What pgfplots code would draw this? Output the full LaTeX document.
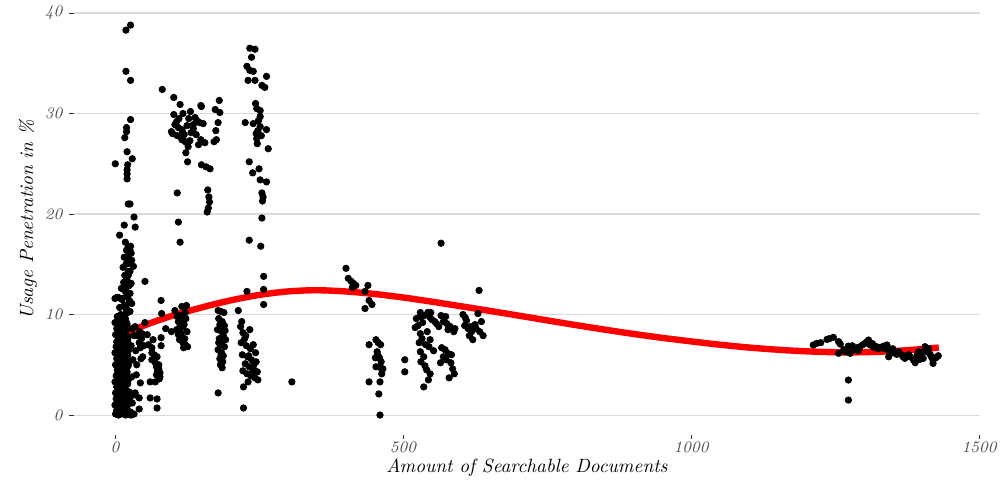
\documentclass[border=0pt]{standalone}
\usepackage{pgfplots}
\pgfplotsset{compat=1.18}
\definecolor{gridgray}{RGB}{218,218,218}
\definecolor{ticktxt}{RGB}{77,77,77}
\definecolor{tickmk}{RGB}{51,51,51}
\begin{document}
\begin{tikzpicture}
\begin{axis}[
  scale only axis,
  width=453pt, height=215pt,
  xmin=-71.5, xmax=1501.5,
  ymin=-1.945, ymax=40.85,
  axis line style={draw=none},
  xtick={0,500,1000,1500}, xticklabels={0,500,1000,1500},
  ytick={0,10,20,30,40}, yticklabels={0,10,20,30,40},
  xtick pos=bottom, ytick pos=left,
  tick align=outside,
  major tick length=2.2pt,
  every tick/.style={tickmk, line width=0.5pt},
  ymajorgrids,
  major grid style={gridgray, line width=0.55pt},
  tick label style={font=\fontsize{8}{9}\selectfont\itshape, text=ticktxt},
  xticklabel style={yshift=2pt},
  xlabel={Amount of Searchable Documents},
  ylabel={Usage Penetration in \%},
  label style={font=\fontsize{9.6}{11}\selectfont\itshape, text=black},
  xlabel style={yshift=4pt},
  ylabel style={yshift=-3pt},
  clip=false,
]
\addplot[only marks, mark=*, mark size=1.6pt, black] coordinates {
(1,0.1)(6,0.0)(12,0.2)(18,0.0)(24,0.1)(3,0.5)(9,0.7)(15,0.4)(21,0.6)(27,0.3)
(0,1.0)(5,1.2)(11,0.9)(17,1.3)(23,1.1)(2,1.6)(8,1.8)(14,1.5)(20,1.9)(26,1.7)
(1,2.2)(7,2.4)(13,2.1)(19,2.5)(25,2.3)(3,2.8)(10,3.0)(16,2.7)(22,3.1)(0,3.3)
(6,3.5)(12,3.4)(18,3.7)(24,3.6)(2,3.9)(9,4.1)(15,4.0)(21,4.3)(4,4.5)(11,4.7)
(17,4.6)(23,4.9)(1,5.0)(7,5.2)(13,5.1)(19,5.4)(25,5.3)(3,5.6)(10,5.8)(16,5.7)
(22,6.0)(0,6.2)(6,6.4)(12,6.3)(18,6.6)(24,6.5)(2,6.8)(8,7.0)(14,6.9)(20,7.2)
(5,7.4)(11,7.6)(17,7.5)(23,7.8)(1,8.0)(7,8.2)(13,8.1)(19,8.4)(3,8.6)(9,8.8)
(15,8.7)(21,9.0)(0,9.2)(6,9.4)(12,9.3)(18,9.6)(4,9.8)(10,10.0)(16,9.9)(22,10.2)
(4,0.3)(10,0.1)(16,0.6)(22,0.2)(8,1.4)(14,1.0)(20,1.5)(4,2.0)(10,2.6)(16,2.3)
(22,1.8)(7,3.2)(13,2.9)(19,3.5)(5,4.2)(14,4.4)(20,3.9)(8,4.8)(15,5.3)(21,5.0)
(4,5.9)(9,6.1)(16,6.0)(21,6.7)(3,7.3)(10,7.1)(15,7.8)(22,7.4)(5,8.5)(12,8.9)
(18,8.2)(8,9.6)(14,9.7)(20,9.2)
(28,0.0)(33,0.1)(30,1.2)(35,2.0)(29,3.8)(31,5.5)(28,6.9)(33,7.9)(30,8.6)
(20,10.4)(8,10.7)(16,10.9)(24,11.2)(12,11.5)(0,11.6)(6,11.7)(21,11.9)(18,12.3)(11,12.6)
(25,12.9)(15,13.2)(20,13.5)(17,13.9)(23,14.3)(14,14.7)(19,15.0)(22,15.4)(16,15.7)(24,16.0)
(20,16.4)(27,16.8)(18,17.2)(8,17.9)(16,18.9)(35,18.7)(33,19.7)(52,13.3)
(23,16.8)(26,16.4)(28,16.1)(23,15.8)(29,15.4)(24,15.1)(32,14.8)(26,14.3)(23,13.9)(21,13.4)
(28,13.1)(22,12.8)(17,12.4)(26,12.1)(20,11.8)(3,11.7)(12,11.6)(25,11.4)(29,11.1)(20,10.6)
(26,10.3)(6,9.8)
(23,21.0)(26,21.0)(21,24.4)(21,24.0)(21,23.5)(22,24.9)(0.5,25.0)(30,25.5)(21,26.2)(17,27.6)
(20,28.2)(20,28.6)(27,29.4)(27,33.3)(19,34.2)(19,38.3)(27,38.8)
(35,8.8)(38,7.9)(42,7.2)(36,6.4)(45,5.6)(37.6,5.0)(37,4.0)(44,3.2)(35,2.2)(42,1.7)
(42,0.6)(47,8.1)(50,6.9)(52,9.2)(43,8.3)(46,7.6)(44,6.7)(48,5.8)
(61,1.7)(61,3.3)(64,6.7)(64,6.2)(64,5.5)(66,7.5)(70,5.2)(72,4.8)(73,5.8)(74,4.4)
(75,4.0)(76,5.0)(77,3.6)(78,4.2)(73,1.6)(73,0.7)(80,11.4)(81,10.1)(88,8.6)(80,7.7)
(80,6.9)(58,7.0)(56,8.0)(68,6.0)(70,3.3)(72,4.0)(76,4.6)(78,3.8)
(104,10.4)(116,10.8)(124,10.9)(98,8.3)(107,8.5)(113,9.9)(115,9.5)(113,9.0)(118,8.8)(114,8.2)
(116,7.8)(118,7.2)(122,7.0)(110,9.3)(122,10.2)(123,9.6)(120,9.0)(125,8.3)(121,7.6)(126,6.8)
(112,7.5)(108,9.8)(119,6.7)(110,8.0)
(110,19.2)(113,17.2)(108,22.1)
(82,32.4)(102,31.6)(113,30.9)(131,30.2)(102,29.9)(107,29.2)(136,28.9)(104,28.9)(110,28.6)(116,28.4)
(98,28.2)(100,28.0)(117,28.2)(120,27.9)(116,27.4)(122,27.2)(126,27.0)(130,27.3)(127,26.7)(123,26.1)
(126,25.2)(142,29.3)(147,29.1)(153,29.0)(149,30.8)(136,28.5)(141,27.9)(149,27.4)(145,26.9)(156,27.1)
(150,24.9)(158,24.7)(165,24.5)(161,22.4)(163,21.7)(164,21.2)(162,20.6)(160,20.2)(174,30.4)(181,31.3)
(182,30.1)(179,29.1)(175,28.3)(176,27.4)(172,27.2)(150,30.7)(139,29.6)(118,30.0)(111,29.5)(125,28.8)
(132,28.1)(108,27.8)(128,29.5)
(179,10.4)(184,10.3)(189,10.2)(180,9.6)(186,9.3)(182,9.0)(190,8.9)(178,8.5)(185,8.3)(188,7.9)
(181,7.6)(186,7.3)(183,7.0)(190,6.8)(179,6.5)(185,6.2)(188,5.9)(182,5.6)(187,5.3)(183,5.0)
(186,4.7)(179,2.2)(192,7.5)(191,8.4)(180,7.2)(184,6.0)
(234,36.5)(243,36.4)(237,35.6)(229,34.7)(234,34.3)(240,34.2)(231,33.3)(243,33.3)(263,33.7)(255,32.8)
(260,32.6)(246,30.5)(252,30.3)(252,29.7)(252,28.7)(226,29.1)(240,29.0)(263,28.4)(245,28.0)(246,27.5)
(247,27.0)(266,26.5)(233,25.2)(239,24.1)(250,24.5)(252,23.4)(263,23.2)(255,22.1)(257,21.7)(256,21.3)
(255,19.6)(233,17.4)(253,16.8)(258,13.8)(258,12.5)(258,11.0)(229,12.3)(249,29.3)(248,28.3)(254,27.8)
(244,31.0)
(214,10.4)(220,9.3)(234,8.5)(218,8.8)(222,8.2)(225,7.6)(219,7.2)(228,6.9)(235,6.6)(240,7.0)
(244,6.2)(221,6.0)(230,5.8)(237,5.5)(245,5.3)(226,5.1)(233,4.8)(240,4.6)(247,4.3)(222,4.4)
(229,4.1)(236,3.9)(243,3.7)(248,3.5)(231,3.3)(223,2.8)(223,0.7)(232,5.9)(241,5.0)(227,7.9)
(238,4.2)
(307,3.3)
(401,14.6)(405,13.6)(410,13.3)(414,13.1)(418,12.9)(412,12.7)(439,12.9)(434,12.3)(441,11.4)(446,11.0)
(434,10.6)(441,7.0)(453,7.5)(457,7.2)(461,7.0)(455,6.3)(452,5.7)(459,5.7)(462,5.3)(453,4.8)
(461,4.7)(465,4.6)(441,3.3)(460,3.3)(458,2.1)(460,0.0)(503,5.5)(503,4.3)(456,6.0)(463,4.1)
(566,17.1)(632,12.4)
(530,10.2)(543,10.2)(548,10.2)(523,9.6)(530,9.8)(537,9.9)(547,9.7)(550,9.5)(521,8.7)(530,8.1)
(533,7.6)(547,7.5)(530,6.3)(536,5.8)(541,4.5)(547,4.1)(544,3.5)(536,2.8)(553,6.4)(539,7.0)
(526,8.9)(534,9.2)(542,8.3)(528,7.2)(545,6.8)(538,4.9)(531,5.3)
(555,9.3)(558,9.1)(566,9.9)(574,9.8)(570,9.3)(576,9.1)(582,8.8)(590,8.6)(588,8.3)(562,8.8)
(578,8.5)(567,6.7)(573,6.5)(579,6.1)(570,5.8)(565,5.2)(583,5.2)(586,4.6)(589,4.1)(580,3.7)
(575,5.5)(584,6.0)
(604,10.0)(610,9.4)(607,8.9)(613,8.6)(619,8.3)(627,8.6)(633,8.3)(636,9.3)(639,7.9)(621,7.5)
(615,7.9)(625,9.0)(630,10.1)(608,9.7)(617,8.8)
(1212,6.97)(1218,7.13)(1236,7.53)(1247,7.73)(1256,7.30)(1259,7.06)(1256,6.14)(1273,6.86)(1276,6.14)(1282,6.53)
(1288,6.70)(1293,6.80)(1302,7.13)(1308,7.46)(1311,6.97)(1317,6.73)(1322,6.80)(1328,6.73)(1334,6.86)(1340,6.97)
(1343,5.80)(1345,6.14)(1351,6.20)(1357,6.04)(1363,6.10)(1368,5.80)(1371,5.64)(1374,5.87)(1380,5.80)(1386,5.47)
(1389,5.21)(1397,5.54)(1403,5.64)(1406,6.80)(1409,6.30)(1415,6.04)(1417,5.80)(1420,5.47)(1423,5.64)(1426,5.74)
(1420,5.14)(1273,3.48)(1273,1.49)
(1225,7.2)(1240,7.6)(1265,6.5)(1280,6.9)(1298,7.0)(1305,7.3)(1315,7.1)(1325,6.6)(1337,6.6)(1348,6.4)
(1360,6.3)(1366,6.0)(1378,6.0)(1392,5.9)(1400,6.2)(1412,6.6)(1429,5.9)(1395,6.3)(1350,6.6)(1332,6.7)
(1290,6.4)(1268,6.3)
};
\addplot[red, line width=3.2pt, smooth, tension=0.5] coordinates {
(0,7.7)(50,8.9)(100,9.9)(150,10.7)(200,11.4)(250,11.95)(300,12.3)(350,12.42)(400,12.3)(450,12.05)
(500,11.7)(550,11.28)(600,10.83)(650,10.37)(700,9.9)(750,9.42)(800,8.95)(850,8.5)(900,8.07)(950,7.68)
(1000,7.33)(1050,7.0)(1100,6.72)(1150,6.5)(1200,6.34)(1250,6.25)(1300,6.25)(1350,6.36)(1400,6.56)(1430,6.72)
};
\end{axis}
\pgfresetboundingbox
\path ([xshift=-36.9pt,yshift=-24.75pt]current axis.south west) rectangle ([xshift=12.5pt,yshift=2.25pt]current axis.north east);
\end{tikzpicture}
\end{document}
